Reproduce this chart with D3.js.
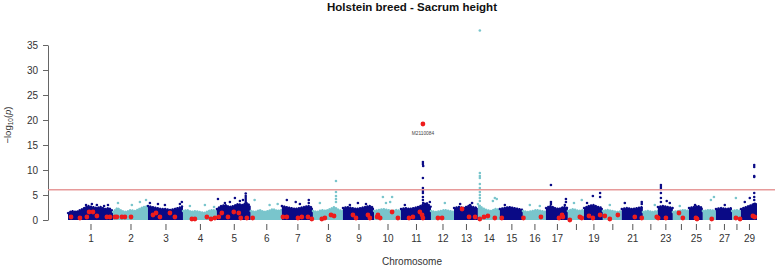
<!DOCTYPE html>
<html>
<head>
<meta charset="utf-8">
<script src="https://cdnjs.cloudflare.com/ajax/libs/d3/7.8.5/d3.min.js"></script>
<style>
  body { margin: 0; background: #fff; }
  text { font-family: "Liberation Sans", Arial, sans-serif; }
</style>
</head>
<body>
<div class="vis"></div>
<script>
const width = 778;
const height = 268;

// chromosome lengths (Mb) as they are laid out on the x axis
const chromosomes = d3.range(1, 30);
const chrLength = [162, 126, 126, 122, 122, 112, 112, 108, 112, 97, 108, 83, 86, 79, 83,
                   83, 79, 58, 68, 68, 76, 54, 54, 58, 50, 47, 58, 32, 58];
const tickLabels = ["1", "2", "3", "4", "5", "6", "7", "8", "9", "10", "11", "12", "13", "14", "15",
                    "16", "17", "", "19", "", "21", "", "23", "", "25", "", "27", "", "29"];
const yTicks = [0, 5, 10, 15, 20, 25, 30, 35];

// top of the dense cloud of SNPs, evenly spaced along each chromosome (-log10 p)
const band = [
  [1.4, 1.8, 1.6, 2.0, 2.4, 2.8, 2.6, 2.4, 2.6, 2.2, 2.4, 1.8],
  [1.6, 2.4, 1.8, 1.6, 2.0, 1.8, 2.2, 2.6, 2.8],
  [2.8, 2.6, 2.4, 2.2, 2.2, 2.0, 2.2, 2.4, 2.8],
  [1.8, 2.0, 1.6, 1.8, 1.6, 1.4, 1.8, 2.0, 1.8],
  [2.2, 2.8, 3.0, 2.6, 2.8, 3.2, 3.0, 3.4, 2.8],
  [1.8, 1.6, 2.0, 1.6, 1.8, 2.2, 1.8, 2.0],
  [2.8, 2.6, 2.4, 2.2, 2.4, 2.6, 2.8, 2.4],
  [1.8, 1.6, 2.0, 1.8, 2.2, 2.6, 2.0, 1.8],
  [2.4, 2.6, 2.4, 2.2, 2.4, 2.6, 2.8, 2.4],
  [1.8, 2.0, 2.2, 2.0, 1.8, 2.0, 1.8],
  [2.2, 2.4, 2.2, 2.4, 2.6, 3.0, 3.4, 2.6],
  [1.8, 1.6, 1.8, 2.0, 1.8, 1.6],
  [2.4, 2.6, 2.4, 2.8, 2.6, 2.4],
  [3.2, 2.4, 2.0, 1.8, 2.2, 2.0],
  [2.2, 2.4, 2.6, 2.4, 2.2, 2.0],
  [1.8, 1.6, 1.8, 2.0, 1.8, 1.6],
  [2.4, 2.8, 2.4, 2.2, 2.6, 2.4],
  [1.8, 2.2, 1.8, 2.0],
  [2.4, 2.8, 3.0, 2.6, 2.4],
  [1.8, 2.0, 1.8, 1.6, 1.8],
  [2.2, 2.4, 2.2, 2.4, 2.6],
  [1.6, 1.8, 1.6, 1.8],
  [2.6, 2.8, 2.6, 2.4],
  [1.6, 1.8, 2.0, 1.8],
  [2.4, 2.6, 2.8, 2.4],
  [1.8, 2.0, 1.8],
  [2.2, 2.4, 2.2, 2.4],
  [1.8, 2.0, 1.8],
  [2.2, 2.6, 3.0, 3.4]
];

// SNPs standing out above the cloud: [chromosome, position (Mb), -log10 p]
const peaks = [
  [1, 65, 3.0], [1, 86, 3.2], [1, 104, 3.0], [1, 130, 2.8], [1, 144, 3.0],
  [2, 18, 3.4], [2, 68, 3.0], [2, 97, 3.6], [2, 119, 4.0],
  [3, 7, 3.4], [3, 36, 3.2], [3, 61, 3.0], [3, 115, 3.2], [3, 122, 3.6],
  [4, 25, 2.8], [4, 79, 3.0], [4, 112, 2.6],
  [5, 4, 4.2], [5, 29, 3.4], [5, 47, 3.6], [5, 65, 4.4], [5, 83, 3.8], [5, 94, 4.0],
  [5, 104, 5.3], [5, 104, 4.8], [5, 104, 4.4], [5, 104, 4.0], [5, 104, 3.6],
  [6, 14, 4.0], [6, 68, 3.0], [6, 97, 3.2],
  [7, 18, 4.0], [7, 50, 3.6], [7, 65, 3.2], [7, 97, 4.0], [7, 97, 3.4],
  [8, 25, 3.4], [8, 83, 7.8], [8, 83, 5.6], [8, 83, 4.8], [8, 83, 4.2], [8, 83, 3.6],
  [9, 25, 3.0], [9, 54, 3.4], [9, 83, 3.2],
  [10, 32, 4.6], [10, 43, 3.4], [10, 58, 3.6], [10, 65, 4.6],
  [11, 14, 3.0], [11, 79, 11.6], [11, 79, 11.2], [11, 80, 10.8], [11, 79, 8.4], [11, 79, 6.4],
  [11, 79, 5.8], [11, 79, 5.4], [11, 79, 4.6], [11, 79, 4.0], [11, 80, 3.4], [11, 104, 3.6],
  [12, 50, 3.4],
  [13, 22, 3.2], [13, 58, 3.0], [13, 65, 3.4],
  [14, 7, 37.9], [14, 7, 9.4], [14, 7, 8.8], [14, 7, 8.4], [14, 7, 7.2], [14, 7, 6.4],
  [14, 7, 5.6], [14, 7, 5.0], [14, 7, 4.4], [14, 7, 3.8], [14, 54, 3.8], [14, 61, 4.4], [14, 68, 4.2],
  [15, 18, 3.0],
  [16, 25, 3.0], [16, 61, 2.8],
  [17, 18, 7.0], [17, 18, 3.6], [17, 18, 3.2], [17, 68, 3.0], [17, 72, 4.2], [17, 72, 3.6],
  [18, 22, 3.4], [18, 50, 4.0],
  [19, 11, 3.4], [19, 32, 4.8], [19, 58, 5.4], [19, 58, 4.6],
  [20, 25, 3.0],
  [21, 11, 3.4], [21, 72, 3.6], [21, 72, 3.2],
  [22, 43, 3.0],
  [23, 11, 7.0], [23, 11, 6.6], [23, 11, 6.2], [23, 11, 5.4], [23, 11, 4.4], [23, 11, 3.6],
  [23, 32, 3.8], [23, 43, 3.4],
  [24, 25, 2.8],
  [25, 22, 3.0],
  [26, 29, 4.0], [26, 40, 4.6],
  [27, 32, 3.0],
  [28, 14, 4.4],
  [29, 14, 3.6], [29, 32, 4.4], [29, 48, 11.0], [29, 48, 10.6], [29, 48, 8.8], [29, 48, 8.6],
  [29, 48, 5.4], [29, 48, 4.6], [29, 48, 4.0], [29, 48, 3.2]
];

// highlighted SNPs (red): [chromosome, position (Mb), -log10 p]
const highlighted = [
  [1, 11, 0.6], [1, 43, 0.4], [1, 68, 0.6], [1, 76, 1.6], [1, 90, 1.6], [1, 104, 0.8], [1, 140, 0.6], [1, 151, 0.6],
  [2, 7, 0.6], [2, 14, 0.6], [2, 32, 0.6], [2, 43, 0.6], [2, 65, 0.6],
  [3, 18, 1.0], [3, 29, 1.4], [3, 43, 0.6], [3, 79, 1.4], [3, 97, 0.6],
  [4, 32, 0.2], [4, 43, 0.2], [4, 86, 0.6], [4, 101, 0.2], [4, 115, 0.4],
  [5, 7, 0.6], [5, 18, 1.4], [5, 40, 0.6], [5, 61, 1.6], [5, 79, 1.4], [5, 86, 0.4], [5, 108, 0.4],
  [6, 7, 0.4],
  [7, 4, 0.6], [7, 18, 0.6], [7, 58, 0.4], [7, 72, 0.6], [7, 94, 0.6], [7, 108, 0.2],
  [8, 32, 0.2], [8, 43, 0.4], [8, 65, 1.0], [8, 76, 0.8],
  [9, 36, 1.0], [9, 47, 0.4], [9, 90, 1.0], [9, 97, 0.4],
  [10, 11, 0.6], [10, 14, 1.0], [10, 22, 0.4], [10, 65, 1.6], [10, 86, 0.4],
  [11, 29, 0.4], [11, 43, 0.6], [11, 68, 1.6], [11, 76, 1.0], [11, 79, 0.4],
  [12, 25, 0.4], [12, 40, 0.4],
  [13, 29, 2.2], [13, 54, 0.6], [13, 76, 0.6],
  [14, 7, 0.2], [14, 22, 0.6], [14, 36, 0.8], [14, 61, 0.4],
  [15, 7, 0.4],
  [16, 2, 0.4], [16, 65, 0.6],
  [17, 47, 0.4], [17, 58, 1.0], [17, 61, 0.6],
  [18, 7, 0.0], [18, 43, 0.6], [18, 50, 0.4],
  [19, 18, 0.8], [19, 32, 0.4], [19, 58, 1.0],
  [20, 7, 0.8], [20, 25, 0.2], [20, 54, 1.0],
  [21, 47, 0.6], [21, 72, 0.4],
  [22, 50, 0.6],
  [23, 1, 0.4], [23, 29, 0.4],
  [24, 22, 1.4], [24, 36, 0.4],
  [25, 25, 0.4], [25, 29, 0.2],
  [26, 32, 0.2],
  [28, 14, 0.4], [28, 29, 0.2],
  [29, 43, 0.8], [29, 50, 0.6]
];

const topSnp = { chr: 11, pos: 79, p: 19.2, name: "M2110084" };
const threshold = 6.06;

const darkColor = "#0a0a86";
const lightColor = "#79c5cc";
const chrColor = c => (c % 2 === 1 ? darkColor : lightColor);

// cumulative offsets of the chromosomes
const offsets = [];
chrLength.reduce((acc, len, i) => { offsets[i] = acc; return acc + len; }, 0);
const total = d3.sum(chrLength);
const gpos = (chr, pos) => offsets[chr - 1] + pos;

const svg = d3.select(".vis").append("svg")
    .attr("width", width)
    .attr("height", height);

// Scales
const xScale = d3.scaleLinear().domain([0, total]).range([68, 757]);
const yScale = d3.scaleLinear().domain([0, 35]).range([220, 45]);

// Title
svg.append("text")
    .attr("x", 412)
    .attr("y", 11)
    .attr("text-anchor", "middle")
    .attr("font-size", "11.5px")
    .attr("font-weight", "bold")
    .attr("fill", "#111")
    .text("Holstein breed - Sacrum height");

// Y axis
const yAxis = svg.append("g")
    .attr("transform", "translate(48,0)")
    .call(d3.axisLeft(yScale).tickValues(yTicks).tickSize(5).tickSizeOuter(0).tickPadding(5));
yAxis.select(".domain").attr("stroke", "#666");
yAxis.selectAll(".tick line").attr("stroke", "#666");
yAxis.selectAll(".tick text").attr("fill", "#333").attr("font-size", "10px")
    .attr("font-family", "Liberation Sans, Arial, sans-serif");

// Y label: -log10(p)
const ylab = svg.append("text")
    .attr("transform", "translate(11,125) rotate(-90)")
    .attr("text-anchor", "middle")
    .attr("font-size", "9.5px")
    .attr("fill", "#333");
ylab.append("tspan").text("\u2212log");
ylab.append("tspan").attr("font-size", "6.5px").attr("dy", "2").text("10");
ylab.append("tspan").attr("dy", "-2").text("(");
ylab.append("tspan").attr("font-style", "italic").text("p");
ylab.append("tspan").text(")");

// X axis: ticks at chromosome midpoints
const centers = chromosomes.map((c, i) => offsets[i] + chrLength[i] / 2);
const xAxis = svg.append("g")
    .attr("transform", "translate(0,224)")
    .call(d3.axisBottom(xScale).tickValues(centers).tickSize(6).tickPadding(5)
        .tickFormat((d, i) => tickLabels[i]));
xAxis.select(".domain").remove();
xAxis.selectAll(".tick line").attr("stroke", "#555");
xAxis.selectAll(".tick text").attr("fill", "#333").attr("font-size", "10px")
    .attr("font-family", "Liberation Sans, Arial, sans-serif");

svg.append("text")
    .attr("x", 412)
    .attr("y", 265)
    .attr("text-anchor", "middle")
    .attr("font-size", "10px")
    .attr("fill", "#333")
    .text("Chromosome");

// Dense cloud per chromosome + standing-out SNPs
const area = d3.area()
    .x(d => xScale(d.x))
    .y0(yScale(0))
    .y1(d => yScale(d.p));

const topLine = d3.line()
    .x(d => xScale(d.x))
    .y(d => yScale(d.p));

chromosomes.forEach((c, i) => {
    const vals = band[i];
    const pts = vals.map((p, j) => ({ x: offsets[i] + chrLength[i] * j / (vals.length - 1), p: p }));
    const g = svg.append("g");
    g.append("path")
        .datum(pts)
        .attr("d", area)
        .attr("fill", chrColor(c));
    g.append("path")
        .datum(pts)
        .attr("d", topLine)
        .attr("fill", "none")
        .attr("stroke", chrColor(c))
        .attr("stroke-width", 2.4)
        .attr("stroke-linecap", "round")
        .attr("stroke-dasharray", "0.1 2.4");
    g.selectAll("circle")
        .data(peaks.filter(d => d[0] === c))
        .enter()
        .append("circle")
        .attr("cx", d => xScale(gpos(d[0], d[1])))
        .attr("cy", d => yScale(d[2]))
        .attr("r", 1.3)
        .attr("fill", chrColor(c));
});

// Genome-wide threshold
svg.append("line")
    .attr("x1", 48)
    .attr("x2", 775)
    .attr("y1", yScale(threshold))
    .attr("y2", yScale(threshold))
    .attr("stroke", "#e79a9a")
    .attr("stroke-width", 1.5);

// Highlighted SNPs
svg.selectAll("circle.hl")
    .data(highlighted.concat([[topSnp.chr, topSnp.pos, topSnp.p]]))
    .enter()
    .append("circle")
    .attr("class", "hl")
    .attr("cx", d => xScale(gpos(d[0], d[1])))
    .attr("cy", d => yScale(d[2]))
    .attr("r", 2.4)
    .attr("fill", "#ee1c1c");

svg.append("text")
    .attr("x", xScale(gpos(topSnp.chr, topSnp.pos)))
    .attr("y", yScale(topSnp.p) + 10.5)
    .attr("text-anchor", "middle")
    .attr("font-size", "4.8px")
    .attr("fill", "#444")
    .text(topSnp.name);
</script>
</body>
</html>
